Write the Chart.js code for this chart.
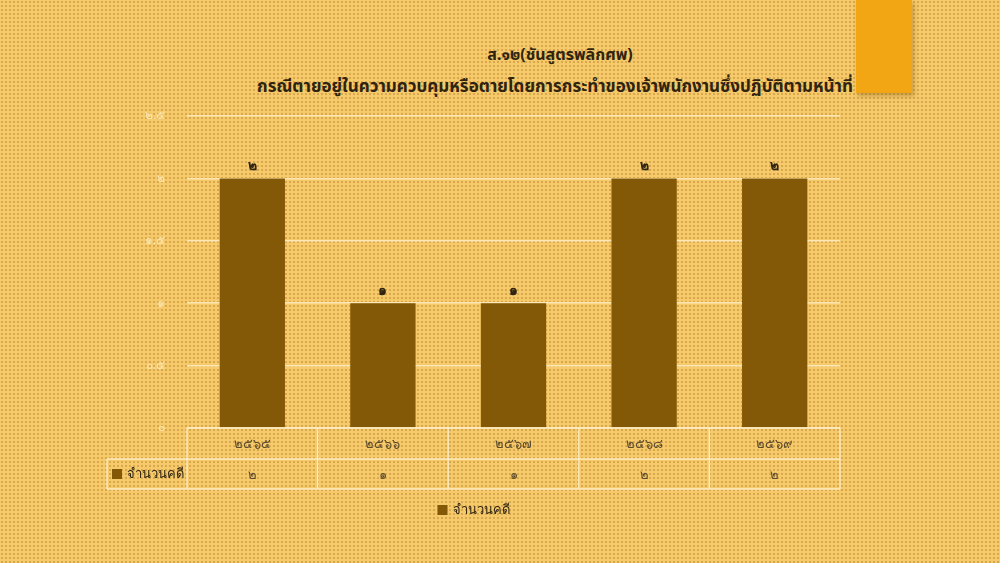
<!DOCTYPE html>
<html>
<head>
<meta charset="utf-8">
<script src="https://cdn.jsdelivr.net/npm/chart.js@4/dist/chart.umd.min.js"></script>
<style>
  html, body { margin: 0; padding: 0; }
  body {
    width: 1000px; height: 563px; overflow: hidden; position: relative;
    background-color: #f6c96b;
    background-image: radial-gradient(circle, rgba(190,140,50,0.55) 0.7px, transparent 1.1px);
    background-size: 4px 4px;
    font-family: "Noto Sans", "Noto Sans Thai", sans-serif;
  }
  #accent {
    position: absolute; left: 856px; top: 0; width: 56px; height: 93px;
    background: #f3a614; box-shadow: 2px 3px 4px rgba(120,80,0,0.35);
  }
  #title {
    position: absolute; left: 240px; width: 630px; top: 38px;
    text-align: center; color: #2e2410; font-weight: bold; line-height: 32px;
  }
  #title .l1 { font-size: 16px; padding-left: 10px; }
  #title .l2 { font-size: 17px; }
  #wrap { position: absolute; left: 0; top: 0; width: 1000px; height: 563px; }
</style>
</head>
<body>
<div id="accent"></div>
<div id="title">
  <div class="l1">ส.๑๒(ชันสูตรพลิกศพ)</div>
  <div class="l2">กรณีตายอยู่ในความควบคุมหรือตายโดยการกระทำของเจ้าพนักงานซึ่งปฏิบัติตามหน้าที่</div>
</div>
<div id="wrap"><canvas id="chart" width="1000" height="563"></canvas></div>
<script>
const years = ['๒๕๖๕', '๒๕๖๖', '๒๕๖๗', '๒๕๖๘', '๒๕๖๙'];
const caseCounts = [2, 1, 1, 2, 2];
const seriesName = 'จำนวนคดี';
const thaiDigits = ['๐', '๑', '๒', '๓', '๔', '๕', '๖', '๗', '๘', '๙'];

const barColor = '#835807';
const gridColor = '#fbe8b6';
const textColor = '#5c4c2c';

function toThai(n) {
  return String(n).replace(/[0-9]/g, d => thaiDigits[d]);
}

// labels above the bars
const barLabels = {
  id: 'barLabels',
  afterDatasetsDraw(chart) {
    const ctx = chart.ctx;
    const meta = chart.getDatasetMeta(0);
    ctx.save();
    ctx.fillStyle = '#2e2410';
    ctx.font = 'bold 14px "Noto Sans", sans-serif';
    ctx.textAlign = 'center';
    ctx.textBaseline = 'bottom';
    meta.data.forEach((bar, i) => {
      ctx.fillText(toThai(caseCounts[i]), bar.x, bar.y - 5);
    });
    ctx.restore();
  }
};

// data table under the plot + legend below it
const dataTable = {
  id: 'dataTable',
  afterDraw(chart) {
    const ctx = chart.ctx;
    const area = chart.chartArea;
    const x = chart.scales.x;
    const top = area.bottom;
    const mid = top + 31;
    const bot = mid + 30;
    const left = area.left - 80;
    const n = years.length;
    const edges = [];
    for (let i = 0; i <= n; i++) {
      edges.push(i === 0 ? area.left : i === n ? area.right
        : (x.getPixelForValue(i - 1) + x.getPixelForValue(i)) / 2);
    }
    ctx.save();
    ctx.strokeStyle = '#fdecc2';
    ctx.lineWidth = 1.3;
    ctx.beginPath();
    ctx.moveTo(area.left, top); ctx.lineTo(area.right, top);
    ctx.moveTo(left, mid); ctx.lineTo(area.right, mid);
    ctx.moveTo(left, bot); ctx.lineTo(area.right, bot);
    ctx.moveTo(left, mid); ctx.lineTo(left, bot);
    edges.forEach(e => { ctx.moveTo(e, top); ctx.lineTo(e, bot); });
    ctx.stroke();

    ctx.fillStyle = textColor;
    ctx.font = '13px "Noto Sans", sans-serif';
    ctx.textAlign = 'center';
    ctx.textBaseline = 'middle';
    years.forEach((y, i) => {
      const cx = x.getPixelForValue(i);
      ctx.fillText(y, cx, (top + mid) / 2 + 1);
      ctx.fillText(toThai(caseCounts[i]), cx, (mid + bot) / 2 + 1);
    });

    // row header
    ctx.fillStyle = barColor;
    ctx.fillRect(left + 5, mid + 10, 10, 10);
    ctx.fillStyle = '#2e2410';
    ctx.textAlign = 'left';
    ctx.font = '13px "Noto Sans", sans-serif';
    ctx.fillText(seriesName, left + 20, (mid + bot) / 2);

    // legend, centred on the table incl. its row-header column
    const lw = ctx.measureText(seriesName).width;
    const ly = bot + 21;
    const lx = (left + area.right) / 2 - (15 + lw) / 2;
    ctx.fillStyle = barColor;
    ctx.fillRect(lx, ly - 5, 10, 10);
    ctx.fillStyle = '#2e2410';
    ctx.fillText(seriesName, lx + 15, ly);
    ctx.restore();
  }
};

new Chart(document.getElementById('chart'), {
  type: 'bar',
  data: {
    labels: years,
    datasets: [{
      label: seriesName,
      data: caseCounts,
      backgroundColor: barColor,
      borderWidth: 0,
      categoryPercentage: 0.5,
      barPercentage: 1
    }]
  },
  options: {
    responsive: false,
    animation: false,
    devicePixelRatio: 1,
    layout: { padding: { left: 0, right: 160, top: 116, bottom: 135 } },
    plugins: {
      legend: { display: false },
      tooltip: { enabled: false },
      title: { display: false }
    },
    scales: {
      x: {
        afterFit(scale) { scale.height = 0; },
        grid: { display: false },
        border: { display: false },
        ticks: { display: false }
      },
      y: {
        min: 0,
        max: 2.5,
        afterFit(scale) { scale.width = 187; },
        grid: { color: gridColor, lineWidth: 1.5, drawTicks: false },
        border: { display: false },
        ticks: {
          stepSize: 0.5,
          padding: 22,
          color: '#fbe6b0',
          font: { size: 12, family: '"Noto Sans", sans-serif' },
          callback: v => toThai(v)
        }
      }
    }
  },
  plugins: [barLabels, dataTable]
});
</script>
</body>
</html>
